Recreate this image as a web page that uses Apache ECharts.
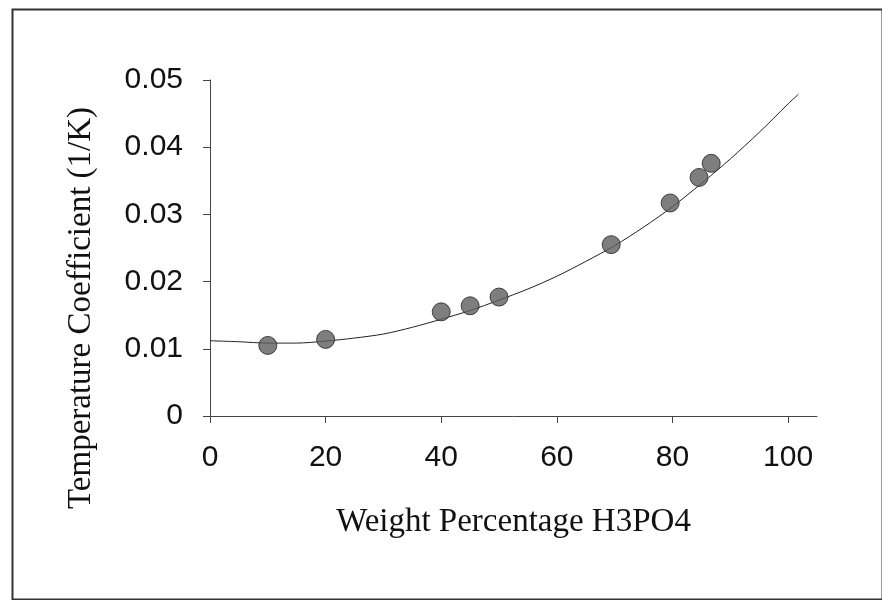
<!DOCTYPE html>
<html>
<head>
<meta charset="utf-8">
<style>html,body{margin:0;padding:0;background:#fff;}#chart{width:882px;height:600px;}</style>
<script src="https://cdn.jsdelivr.net/npm/echarts@6/dist/echarts.min.js"></script>
</head>
<body>
<div id="chart"></div>
<script>
// Measured data points (weight % H3PO4 vs temperature coefficient 1/K)
const pointsX = [10, 20, 40, 45, 50, 69.4, 79.6, 84.6, 86.7];
const pointsY = [0.0105, 0.0114, 0.0155, 0.0164, 0.0177, 0.0255, 0.0317, 0.0355, 0.0376];
// Trend curve
const curveX = [0, 5, 10, 15, 20, 25, 30, 35, 40, 45, 50, 55, 60, 65, 70, 75, 80, 85, 90, 95, 100, 101.8];
const curveY = [0.0112, 0.01105, 0.01085, 0.01085, 0.01115, 0.0116, 0.0122, 0.0132, 0.0144, 0.0157, 0.01725, 0.0189, 0.0208, 0.0230, 0.02535, 0.0281, 0.03115, 0.0346, 0.03825, 0.0422, 0.04645, 0.0479];
// Tick labels
const xTicks = [0, 20, 40, 60, 80, 100];
const yTicks = [0, 0.01, 0.02, 0.03, 0.04, 0.05];
const xName = 'Weight Percentage H3PO4';
const yName = 'Temperature Coefficient (1/K)';

const chart = echarts.init(document.getElementById('chart'), null, {renderer: 'canvas'});
const axisColor = '#444';
chart.setOption({
  animation: false,
  backgroundColor: '#fff',
  graphic: [{
    type: 'rect', left: 10, top: 7,
    shape: {width: 870, height: 590},
    style: {fill: 'none', stroke: '#333', lineWidth: 2},
    silent: true
  }],
  grid: {left: 210, right: 65, top: 80, bottom: 184, containLabel: false},
  xAxis: {
    type: 'value', min: 0, max: 105,
    name: xName, nameLocation: 'middle', nameGap: 90,
    nameTextStyle: {fontFamily: 'Liberation Serif', fontSize: 33, color: '#111'},
    axisLine: {show: true, lineStyle: {color: axisColor, width: 1}},
    axisTick: {show: true, length: 7, customValues: xTicks, lineStyle: {color: axisColor}},
    axisLabel: {customValues: xTicks, margin: 27, fontFamily: 'Liberation Sans', fontSize: 30, color: '#111',
      formatter: v => String(v)},
    splitLine: {show: false}
  },
  yAxis: {
    type: 'value', min: 0, max: 0.05,
    name: yName, nameLocation: 'middle', nameGap: 112, nameRotate: 90,
    nameTextStyle: {fontFamily: 'Liberation Serif', fontSize: 33, color: '#111', padding: [0, 120, 0, 0]},
    axisLine: {show: true, lineStyle: {color: axisColor, width: 1}},
    axisTick: {show: true, length: 7, customValues: yTicks, lineStyle: {color: axisColor}},
    axisLabel: {customValues: yTicks, margin: 27, fontFamily: 'Liberation Sans', fontSize: 30, color: '#111',
      formatter: v => String(+v.toFixed(2))},
    splitLine: {show: false}
  },
  series: [
    {
      type: 'line',
      data: curveX.map((x, i) => [x, curveY[i]]),
      smooth: 0.3,
      showSymbol: false,
      lineStyle: {color: '#222', width: 1},
      z: 2
    },
    {
      type: 'scatter',
      data: pointsX.map((x, i) => [x, pointsY[i]]),
      symbol: 'circle',
      symbolSize: 18,
      itemStyle: {color: '#5e5e5e', borderColor: '#222', borderWidth: 1},
      z: 3
    }
  ]
});
</script>
</body>
</html>
